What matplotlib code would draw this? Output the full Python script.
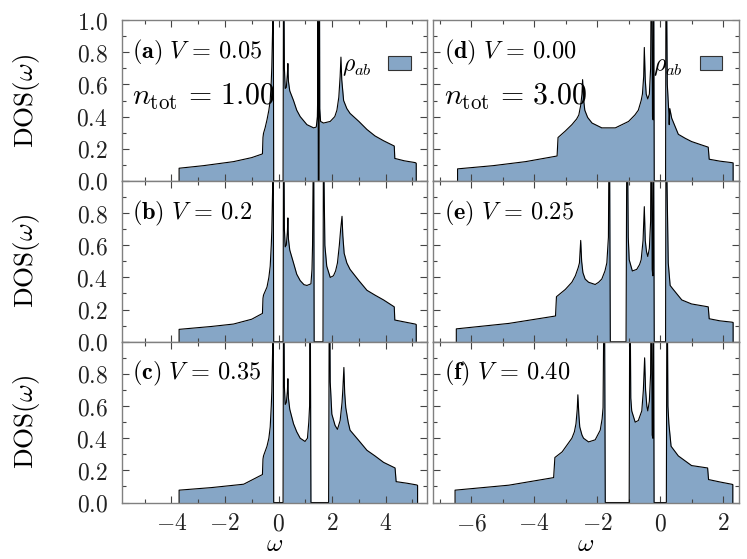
import numpy as np
import matplotlib
matplotlib.use('Agg')
import matplotlib.pyplot as plt
from matplotlib.patches import Patch
from matplotlib.ticker import MultipleLocator, FuncFormatter

plt.rcParams['mathtext.fontset'] = 'cm'
plt.rcParams['font.family'] = 'serif'

# ---- data: omega and DOS for each panel ----
# (a) V = 0.05, n_tot = 1
w_a = [-3.71, -3.71, -2.8, -1.68, -1.0, -0.60, -0.58, -0.56, -0.50, -0.43, -0.36, -0.31, -0.27, -0.25, -0.22, -0.20, -0.18,
       0.17, 0.19, 0.22, 0.25, 0.29, 0.33, 0.35, 0.37, 0.42, 0.56, 0.68, 0.81, 1.06, 1.31, 1.41, 1.45, 1.465, 1.475, 1.485,
       1.515, 1.525, 1.54, 1.57, 1.68, 1.93, 2.10, 2.18, 2.25, 2.30, 2.33, 2.36, 2.43, 2.55, 2.67, 3.0, 3.30, 3.60, 3.92,
       4.32, 4.34, 4.7, 5.10, 5.14, 5.14]
dos_a = [0.0, 0.079, 0.095, 0.12, 0.145, 0.168, 0.27, 0.296, 0.33, 0.38, 0.44, 0.50, 0.62, 0.71, 0.95, 1.6, 0.0,
         0.0, 1.6, 0.70, 0.575, 0.58, 0.66, 0.73, 0.62, 0.56, 0.50, 0.44, 0.40, 0.35, 0.33, 0.335, 0.40, 0.55, 1.6, 0.0,
         0.0, 1.6, 0.45, 0.37, 0.36, 0.37, 0.40, 0.44, 0.52, 0.65, 0.77, 0.63, 0.50, 0.45, 0.42, 0.37, 0.32, 0.28, 0.25,
         0.217, 0.14, 0.125, 0.114, 0.11, 0.0]

# (b) V = 0.2
w_b = [-3.71, -3.71, -2.5, -1.68, -1.0, -0.60, -0.58, -0.56, -0.43, -0.36, -0.31, -0.27, -0.25, -0.22, -0.20, -0.18,
       0.17, 0.19, 0.22, 0.25, 0.29, 0.33, 0.35, 0.37, 0.42, 0.56, 0.68, 0.81, 0.95, 1.06, 1.21, 1.25, 1.27, 1.29, 1.31,
       1.33, 1.66, 1.68, 1.70, 1.73, 1.80, 1.93, 2.05, 2.13, 2.20, 2.27, 2.32, 2.37, 2.40, 2.45, 2.55, 2.67, 3.0, 3.30,
       3.6, 3.92, 4.32, 4.34, 4.7, 5.10, 5.14, 5.14]
dos_b = [0.0, 0.077, 0.095, 0.11, 0.14, 0.176, 0.27, 0.29, 0.34, 0.40, 0.47, 0.60, 0.69, 0.95, 1.6, 0.0,
         0.0, 1.6, 0.70, 0.59, 0.60, 0.68, 0.77, 0.64, 0.57, 0.49, 0.42, 0.38, 0.355, 0.35, 0.36, 0.45, 0.60, 1.0, 1.6,
         0.0, 0.0, 1.6, 1.0, 0.60, 0.47, 0.40, 0.41, 0.44, 0.49, 0.60, 0.70, 0.78, 0.66, 0.55, 0.49, 0.45, 0.38, 0.32,
         0.29, 0.26, 0.217, 0.135, 0.123, 0.11, 0.107, 0.0]

# (c) V = 0.35
w_c = [-3.71, -3.71, -2.5, -1.3, -0.60, -0.58, -0.56, -0.43, -0.36, -0.31, -0.27, -0.25, -0.22, -0.20, -0.18,
       0.17, 0.19, 0.22, 0.25, 0.29, 0.33, 0.35, 0.37, 0.42, 0.56, 0.68, 0.81, 0.99, 1.08, 1.13, 1.16, 1.18, 1.21,
       1.87, 1.90, 1.93, 1.99, 2.11, 2.20, 2.30, 2.37, 2.40, 2.44, 2.47, 2.51, 2.60, 2.67, 3.0, 3.30, 3.6, 3.92,
       4.35, 4.39, 4.8, 5.14, 5.19, 5.19]
dos_c = [0.0, 0.077, 0.093, 0.114, 0.174, 0.27, 0.29, 0.35, 0.40, 0.47, 0.60, 0.69, 0.95, 1.6, 0.0,
         0.0, 1.6, 0.72, 0.61, 0.62, 0.69, 0.77, 0.65, 0.58, 0.49, 0.44, 0.40, 0.38, 0.40, 0.50, 0.60, 1.6, 0.0,
         0.0, 1.6, 0.75, 0.55, 0.48, 0.455, 0.51, 0.62, 0.70, 0.84, 0.68, 0.59, 0.50, 0.45, 0.385, 0.325, 0.29, 0.25,
         0.215, 0.13, 0.12, 0.11, 0.107, 0.0]

# (d) V = 0.00, n_tot = 3
w_d = [-6.43, -6.43, -5.3, -4.27, -3.27, -3.24, -3.01, -2.80, -2.65, -2.58, -2.52, -2.48, -2.46, -2.43, -2.39, -2.30,
       -2.16, -1.85, -1.42, -1.00, -0.80, -0.69, -0.60, -0.56, -0.52, -0.50, -0.47, -0.44, -0.39, -0.34, -0.30, -0.27,
       -0.24, -0.22, -0.205, -0.185, 0.175, 0.19, 0.23, 0.28, 0.29, 0.31, 0.37, 0.58, 0.8, 1.00, 1.30, 1.53, 1.56,
       1.9, 2.27, 2.32, 2.32]
dos_d = [0.0, 0.075, 0.095, 0.12, 0.155, 0.27, 0.31, 0.35, 0.385, 0.41, 0.47, 0.54, 0.63, 0.51, 0.44, 0.395,
         0.36, 0.33, 0.33, 0.37, 0.41, 0.44, 0.50, 0.54, 0.65, 0.83, 0.63, 0.54, 0.51, 0.54, 0.70, 1.6,
         0.40, 0.38, 1.6, 0.0, 0.0, 1.6, 0.60, 0.42, 0.35, 0.45, 0.39, 0.29, 0.265, 0.245, 0.225, 0.21, 0.135,
         0.123, 0.114, 0.112, 0.0]

# (e) V = 0.25
w_e = [-6.47, -6.47, -4.80, -3.32, -3.29, -3.01, -2.80, -2.69, -2.60, -2.56, -2.52, -2.49, -2.45, -2.38, -2.27, -2.06,
       -1.95, -1.85, -1.75, -1.69, -1.64, -1.61, -1.58, -1.08, -1.05, -1.01, -0.98, -0.88, -0.74, -0.65, -0.60, -0.54,
       -0.50, -0.47, -0.43, -0.39, -0.34, -0.30, -0.28, -0.25, -0.23, -0.21, -0.185, 0.175, 0.19, 0.22, 0.26, 0.32,
       0.42, 0.69, 1.0, 1.53, 1.56, 1.9, 2.27, 2.32, 2.32]
dos_e = [0.0, 0.08, 0.114, 0.16, 0.28, 0.325, 0.37, 0.41, 0.46, 0.49, 0.63, 0.50, 0.43, 0.39, 0.37, 0.356,
         0.37, 0.39, 0.44, 0.49, 0.65, 1.6, 0.0, 0.0, 1.6, 0.65, 0.51, 0.44, 0.45, 0.48, 0.51, 0.63,
         0.84, 0.63, 0.56, 0.53, 0.58, 0.75, 1.6, 0.45, 0.41, 1.6, 0.0, 0.0, 1.6, 1.0, 0.49, 0.35,
         0.325, 0.26, 0.235, 0.217, 0.143, 0.13, 0.122, 0.12, 0.0]

# (f) V = 0.40
w_f = [-6.51, -6.51, -4.80, -3.38, -3.34, -3.11, -2.80, -2.72, -2.67, -2.63, -2.61, -2.58, -2.55, -2.48, -2.43, -2.27,
       -2.06, -1.90, -1.84, -1.81, -1.77, -1.74, -0.98, -0.96, -0.93, -0.90, -0.79, -0.69, -0.58, -0.53, -0.49, -0.46,
       -0.42, -0.39, -0.34, -0.30, -0.28, -0.25, -0.23, -0.21, -0.19, 0.20, 0.22, 0.25, 0.28, 0.35, 0.58, 1.00, 1.51,
       1.54, 1.9, 2.27, 2.31, 2.31]
dos_f = [0.0, 0.077, 0.108, 0.155, 0.28, 0.315, 0.40, 0.44, 0.49, 0.58, 0.67, 0.55, 0.47, 0.42, 0.40, 0.377,
         0.39, 0.45, 0.52, 0.59, 1.6, 0.0, 0.0, 1.6, 0.65, 0.57, 0.50, 0.51, 0.57, 0.70, 0.90, 0.70,
         0.60, 0.57, 0.63, 0.80, 1.6, 0.42, 0.40, 1.6, 0.0, 0.0, 1.6, 0.60, 0.49, 0.35, 0.29, 0.23, 0.215,
         0.143, 0.128, 0.114, 0.112, 0.0]

labels = ['a', 'b', 'c', 'd', 'e', 'f']
V_text = ['0.05', '0.2', '0.35', '0.00', '0.25', '0.40']
ntot_text = ['1.00', '3.00']

omegas = [w_a, w_b, w_c, w_d, w_e, w_f]
doses = [dos_a, dos_b, dos_c, dos_d, dos_e, dos_f]

fill_col = '#86a6c6'
spine_col = '#808080'

fig, axes = plt.subplots(3, 2, figsize=(7.47, 5.59), dpi=100)
fig.subplots_adjust(left=0.163, right=0.989, top=0.964, bottom=0.101, hspace=0.0, wspace=0.02)

for k in range(6):
    col = k // 3
    row = k % 3
    ax = axes[row, col]
    w = np.array(omegas[k])
    d = np.array(doses[k])
    ax.fill_between(w, d, 0, color=fill_col, lw=0)
    ax.plot(w, d, color='k', lw=0.8)

    ax.set_ylim(0, 1.0)
    if col == 0:
        ax.set_xlim(-5.85, 5.55)
    else:
        ax.set_xlim(-7.2, 2.5)
    ax.xaxis.set_major_locator(MultipleLocator(2))
    ax.xaxis.set_minor_locator(MultipleLocator(1))
    ax.yaxis.set_major_locator(MultipleLocator(0.2))
    ax.yaxis.set_minor_locator(MultipleLocator(0.1))
    ax.tick_params(which='both', direction='in', top=True, right=True, colors='#444444',
                   labelcolor='#222222', labelsize=17, width=0.8)
    ax.tick_params(which='major', length=5)
    ax.tick_params(which='minor', length=3)
    ax.tick_params(axis='y', pad=10)
    ax.tick_params(axis='x', pad=7)
    for s in ax.spines.values():
        s.set_color(spine_col)
        s.set_linewidth(1.0)

    # tick labels in computer modern
    if row == 0:
        ax.yaxis.set_major_formatter(FuncFormatter(lambda v, p: '$%.1f$' % v))
    else:
        ax.yaxis.set_major_formatter(FuncFormatter(lambda v, p: '' if v > 0.95 else '$%.1f$' % v))
    ax.xaxis.set_major_formatter(FuncFormatter(lambda v, p: '$%d$' % round(v)))
    if row < 2:
        ax.tick_params(labelbottom=False)
    if col == 1:
        ax.tick_params(labelleft=False)

    if col == 0:
        ax.set_ylabel(r'$\mathrm{DOS}(\omega)$', fontsize=19.5)
        ax.yaxis.set_label_coords(-0.262, 0.5)
    if row == 2:
        ax.set_xlabel(r'$\omega$', fontsize=18, labelpad=-1.5)

    ax.text(0.035, 0.80, r'$(\mathbf{%s})\ V\,=\,%s$' % (labels[k], V_text[k]),
            transform=ax.transAxes, fontsize=17.5, va='center', ha='left')
    if row == 0:
        ax.text(0.035, 0.52, r'$n_{\mathrm{tot}}\,=\,%s$' % ntot_text[col],
                transform=ax.transAxes, fontsize=21.5, va='center', ha='left')
        h = Patch(facecolor=fill_col, edgecolor='#333333', lw=0.8)
        ax.legend([h], [r'$\rho_{ab}$'], loc='upper right', bbox_to_anchor=(1.0, 0.895),
                  frameon=False, markerfirst=False, fontsize=17, handlelength=0.95,
                  handleheight=0.5, handletextpad=0.7, borderaxespad=0.3)

plt.savefig('out.png', dpi=100)
